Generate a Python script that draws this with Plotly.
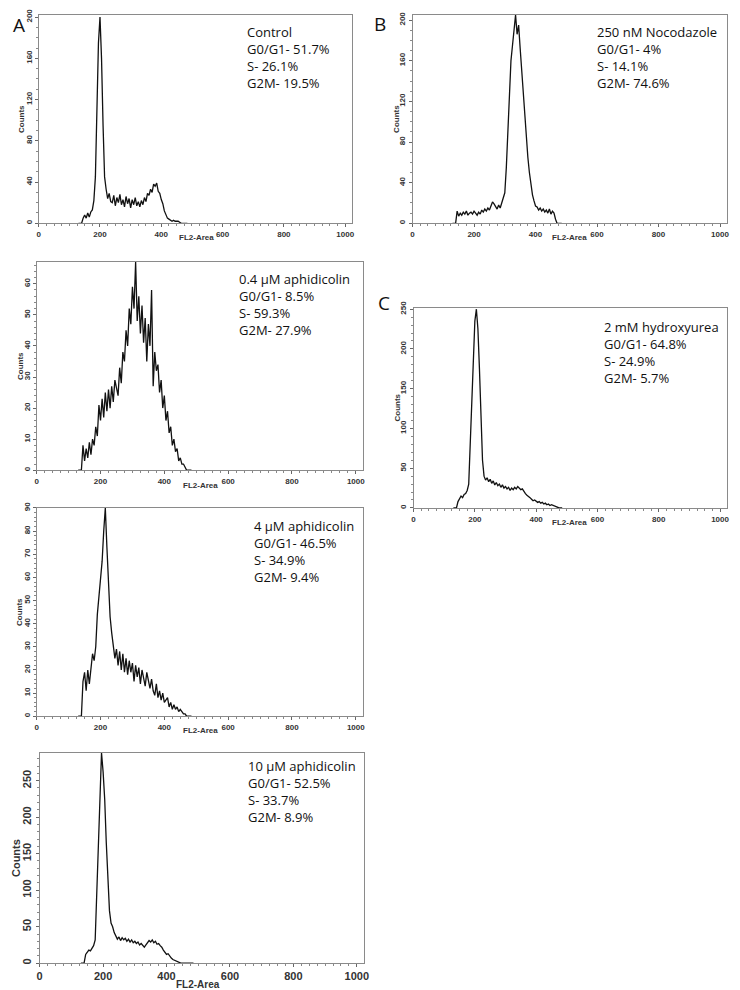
import plotly.graph_objects as go

# histogram channels (FL2-Area), counts read per 5-channel bin
channels = list(range(130, 490, 5))

control = [0, 0, 0, 5, 8, 5, 10, 6, 11, 13,
           22, 45, 110, 175, 200, 160, 95, 45, 33, 24,
           29, 21, 20, 27, 17, 25, 20, 28, 18, 23,
           16, 26, 19, 24, 15, 23, 18, 25, 17, 21,
           16, 22, 18, 25, 21, 29, 27, 33, 30, 38,
           36, 39, 31, 29, 23, 19, 12, 8, 5, 4,
           3, 2, 3, 2, 2, 2, 1, 0, 0, 0,
           0, 0]

aph_04 = [0, 0, 0, 8, 3, 7, 4, 9, 5, 10,
          8, 14, 11, 21, 16, 23, 17, 25, 19, 26,
          20, 27, 22, 29, 26, 24, 33, 28, 38, 35,
          45, 40, 52, 47, 59, 52, 67, 48, 56, 44,
          53, 41, 49, 35, 47, 40, 58, 27, 38, 32,
          34, 25, 29, 20, 24, 16, 19, 12, 14, 8,
          10, 6, 7, 3, 4, 2, 2, 1, 0, 0,
          0, 0]

aph_4 = [0, 0, 0, 15, 19, 11, 20, 14, 21, 27,
         24, 30, 44, 52, 60, 67, 80, 90, 73, 54,
         43, 36, 30, 25, 29, 22, 28, 20, 27, 19,
         25, 18, 24, 19, 23, 15, 22, 17, 21, 14,
         20, 16, 13, 19, 15, 12, 16, 11, 9, 14,
         8, 11, 7, 10, 6, 7, 8, 4, 6, 3,
         5, 3, 4, 2, 3, 2, 1, 1, 0, 0,
         0, 0]

aph_10 = [0, 0, 0, 12, 16, 18, 17, 20, 24, 32,
          100, 175, 245, 288, 262, 225, 165, 110, 72, 55,
          50, 42, 38, 33, 36, 31, 35, 32, 34, 30,
          33, 29, 32, 28, 30, 27, 29, 25, 27, 24,
          22, 25, 28, 31, 29, 32, 28, 30, 26, 27,
          24, 22, 18, 15, 12, 13, 9, 7, 5, 4,
          2, 1, 0, 0, 0, 0, 0, 0, 0, 0,
          0, 0]

nocodazole = [0, 0, 0, 12, 7, 10, 8, 11, 9, 12,
              8, 10, 11, 9, 12, 10, 8, 11, 9, 13,
              11, 14, 12, 15, 13, 17, 21, 19, 16, 14,
              18, 15, 20, 24, 30, 55, 90, 135, 160, 175,
              190, 205, 186, 195, 172, 150, 128, 105, 85, 65,
              50, 38, 28, 22, 17, 16, 13, 15, 12, 14,
              11, 13, 10, 14, 9, 12, 10, 4, 0, 0,
              0, 0]

hydroxyurea = [0, 0, 0, 8, 12, 15, 13, 17, 18, 22,
               30, 80, 140, 180, 235, 250, 225, 175, 110, 60,
               40, 35, 38, 33, 36, 31, 34, 29, 32, 28,
               30, 26, 29, 25, 27, 24, 26, 22, 25, 23,
               26, 24, 27, 25, 23, 24, 20, 18, 16, 15,
               13, 11, 9, 10, 8, 7, 8, 6, 7, 5,
               6, 4, 5, 3, 4, 3, 2, 1, 1, 0,
               0, 0]

texts = [
    "Control<br>G0/G1- 51.7%<br>S- 26.1%<br>G2M- 19.5%",
    "0.4 µM aphidicolin<br>G0/G1- 8.5%<br>S- 59.3%<br>G2M- 27.9%",
    "4 µM aphidicolin<br>G0/G1- 46.5%<br>S- 34.9%<br>G2M- 9.4%",
    "10 µM aphidicolin<br>G0/G1- 52.5%<br>S- 33.7%<br>G2M- 8.9%",
    "250 nM Nocodazole<br>G0/G1- 4%<br>S- 14.1%<br>G2M- 74.6%",
    "2 mM hydroxyurea<br>G0/G1- 64.8%<br>S- 24.9%<br>G2M- 5.7%",
]

# the page body adds an 8px offset, so the figure is a bit smaller than the window
OFF = 8
W, H = 740 - OFF, 990 - OFF


def fx(p):
    return (p - OFF) / W


def fy(p):
    return 1 - (p - OFF) / H


# pixel boxes: (x0, x1, y_top, y_bottom), y max, y dtick, big fonts, text pos, counts x, title (x, y)
panels = [
    (control, (36, 353, 8, 218), 202, 40, False, (245, 14), 18, (196, 232)),
    (aph_04, (34, 364, 257, 467), 67, 10, False, (237, 263), 17, (200, 482)),
    (aph_4, (34, 364, 505, 715), 90, 10, False, (252, 512), 16, (200, 729)),
    (aph_10, (37, 365, 752, 964), 288, 50, True, (246, 754), 13, (197, 985)),
    (nocodazole, (414, 732, 8, 218), 205, 40, False, (598, 14), 397, (573, 232)),
    (hydroxyurea, (415, 732, 303, 505), 252, 50, False, (606, 311), 399, (573, 520)),
]

fig = go.Figure()
layout = {}
annotations = []

for i, (vals, box, ymax, dt, big, tpos, cx, tt) in enumerate(panels, start=1):
    x0, x1, yt, yb = box
    fig.add_trace(go.Scatter(
        x=channels, y=vals, mode="lines",
        line=dict(color="#111", width=1.3),
        xaxis=f"x{i}", yaxis=f"y{i}", showlegend=False,
    ))
    tsize = 11 if big else 8
    tick_font = dict(family="Liberation Sans", size=tsize, color="#333", weight="bold")
    common = dict(
        showline=True, mirror=True, linecolor="#8a8a8a", linewidth=1,
        showgrid=False, zeroline=False, ticks="outside", ticklen=3,
        tickcolor="#666", tickfont=tick_font, ticklabeloverflow="allow",
    )
    layout[f"xaxis{i}"] = dict(
        domain=[fx(x0), fx(x1)], range=[0, 1023], anchor=f"y{i}",
        tickvals=[0, 200, 400, 600, 800, 1000],
        minor=dict(dtick=25, ticklen=2, tickcolor="#888", ticks="outside"),
        **common,
    )
    layout[f"yaxis{i}"] = dict(
        domain=[fy(yb), fy(yt)], range=[0, ymax], anchor=f"x{i}",
        dtick=dt, tickangle=-90,
        minor=dict(nticks=5, ticklen=2, tickcolor="#888", ticks="outside"),
        **common,
    )
    annotations.append(dict(
        text=texts[i - 1], x=fx(tpos[0]), y=fy(tpos[1]), xref="paper", yref="paper",
        xanchor="left", yanchor="top", align="left", showarrow=False,
        font=dict(family="Open Sans", size=13, color="#111"),
    ))
    annotations.append(dict(
        text="Counts", x=fx(cx), y=fy((yt + yb) / 2), xref="paper", yref="paper",
        xanchor="center", yanchor="middle", textangle=-90, showarrow=False,
        font=dict(family="Liberation Sans", size=tsize, color="#333", weight="bold"),
    ))
    annotations.append(dict(
        text="FL2-Area", x=fx(tt[0]), y=fy(tt[1]), xref="paper", yref="paper",
        xanchor="center", yanchor="middle", showarrow=False,
        font=dict(family="Liberation Sans", size=10 if big else 8, color="#333", weight="bold"),
    ))

for letter, lx, ly in [("A", 16, 18), ("B", 381, 17), ("C", 385, 298)]:
    annotations.append(dict(
        text=letter, x=fx(lx), y=fy(ly), xref="paper", yref="paper",
        xanchor="center", yanchor="middle",
        showarrow=False, font=dict(family="Open Sans", size=19, color="#111"),
    ))

fig.update_layout(
    width=W, height=H, margin=dict(l=0, r=0, t=0, b=0),
    paper_bgcolor="white", plot_bgcolor="white",
    annotations=annotations, **layout,
)

fig.write_html("out.html")
